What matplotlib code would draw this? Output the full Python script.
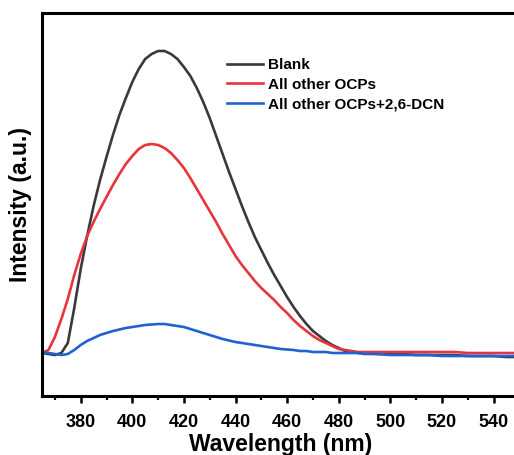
import matplotlib
matplotlib.use("Agg")
import matplotlib.pyplot as plt
from matplotlib.ticker import MultipleLocator

plt.rcParams['font.family'] = ['Liberation Sans', 'DejaVu Sans']
plt.rcParams['font.weight'] = 'bold'

wavelength = [365, 367.5, 370, 372.5, 375, 377.5, 380, 382.5, 385, 387.5,
              390, 392.5, 395, 397.5, 400, 402.5, 405, 407.5, 410, 412.5,
              415, 417.5, 420, 422.5, 425, 427.5, 430, 432.5, 435, 437.5,
              440, 442.5, 445, 447.5, 450, 452.5, 455, 457.5, 460, 462.5,
              465, 467.5, 470, 472.5, 475, 477.5, 480, 482.5, 485, 487.5,
              490, 495, 500, 505, 510, 515, 520, 525, 530, 535,
              540, 545, 550]
blank = [0, -1, -2, 0, 10, 45, 84, 117, 147, 173,
         196, 218, 238, 255, 271, 284, 294, 299, 302, 302,
         299, 294, 286, 277, 265, 251, 235, 217, 199, 181,
         164, 147, 131, 116, 103, 90, 78, 67, 56, 46,
         37, 29, 22, 17, 12, 8, 5, 2, 1, 0,
         0, -1, -1, -1, -2, -2, -2, -2, -3, -3,
         -3, -4, -4]
other = [0, 3, 16, 34, 54, 78, 99, 117, 131, 144,
         156, 168, 179, 189, 197, 204, 208, 209, 208, 205,
         200, 193, 185, 175, 164, 153, 142, 131, 119, 108,
         97, 88, 80, 72, 65, 59, 53, 46, 40, 33,
         27, 22, 17, 13, 10, 7, 4, 3, 2, 1,
         1, 1, 1, 1, 1, 1, 1, 1, 0, 0,
         0, 0, 0]
dcn = [1, 0, -1, -2, -1, 3, 8, 12, 15, 18,
       20, 22, 23.5, 25, 26, 27, 28, 28.5, 29, 29,
       28, 27, 26, 24, 22, 20, 18, 16, 14, 12.5,
       11, 10, 9, 8, 7, 6, 5, 4, 3.5, 3,
       2, 2, 1, 1, 1, 0, 0, 0, 0, 0,
       -1, -1, -2, -2, -2, -2, -3, -3, -3, -3,
       -3, -3, -3]
labels = ["Blank", "All other OCPs", "All other OCPs+2,6-DCN"]
colors = ["#3a3a3a", "#e8343c", "#1f62d2"]

W, H = 514, 455
fig = plt.figure(figsize=(W / 100, H / 100), dpi=100)
ax = fig.add_axes([42 / W, (H - 396) / H, 477.3 / W, 383 / H])

for y, lab, c in zip([blank, other, dcn], labels, colors):
    ax.plot(wavelength, y, color=c, lw=1.9, label=lab,
            solid_joinstyle='round')

ax.set_xlim(365, 550)
ax.set_ylim(-43, 340)
ax.xaxis.set_major_locator(MultipleLocator(20))
ax.xaxis.set_minor_locator(MultipleLocator(10))
ax.set_xticks(range(380, 541, 20))
ax.set_yticks([])
for s in ax.spines.values():
    s.set_linewidth(2.2)
ax.tick_params(axis='x', which='major', direction='out', length=5, width=1.8,
               labelsize=13, pad=8)
ax.tick_params(axis='x', which='minor', direction='out', length=3, width=1.6)
for t in ax.get_xticklabels():
    t.set_fontweight('bold')

ax.set_xlabel("Wavelength (nm)", fontsize=16.5, fontweight='bold', labelpad=1.5)
ax.set_ylabel("Intensity (a.u.)", fontsize=16.5, fontweight='bold', labelpad=7)

leg = ax.legend(loc='upper left', bbox_to_anchor=(227 / W, 1 - 58 / H),
                bbox_transform=fig.transFigure, frameon=False, fontsize=11,
                handlelength=2.35, handletextpad=0.35, labelspacing=0.38,
                borderpad=0, borderaxespad=0)
for t in leg.get_texts():
    t.set_fontweight('bold')

fig.savefig("out.png", dpi=100)
